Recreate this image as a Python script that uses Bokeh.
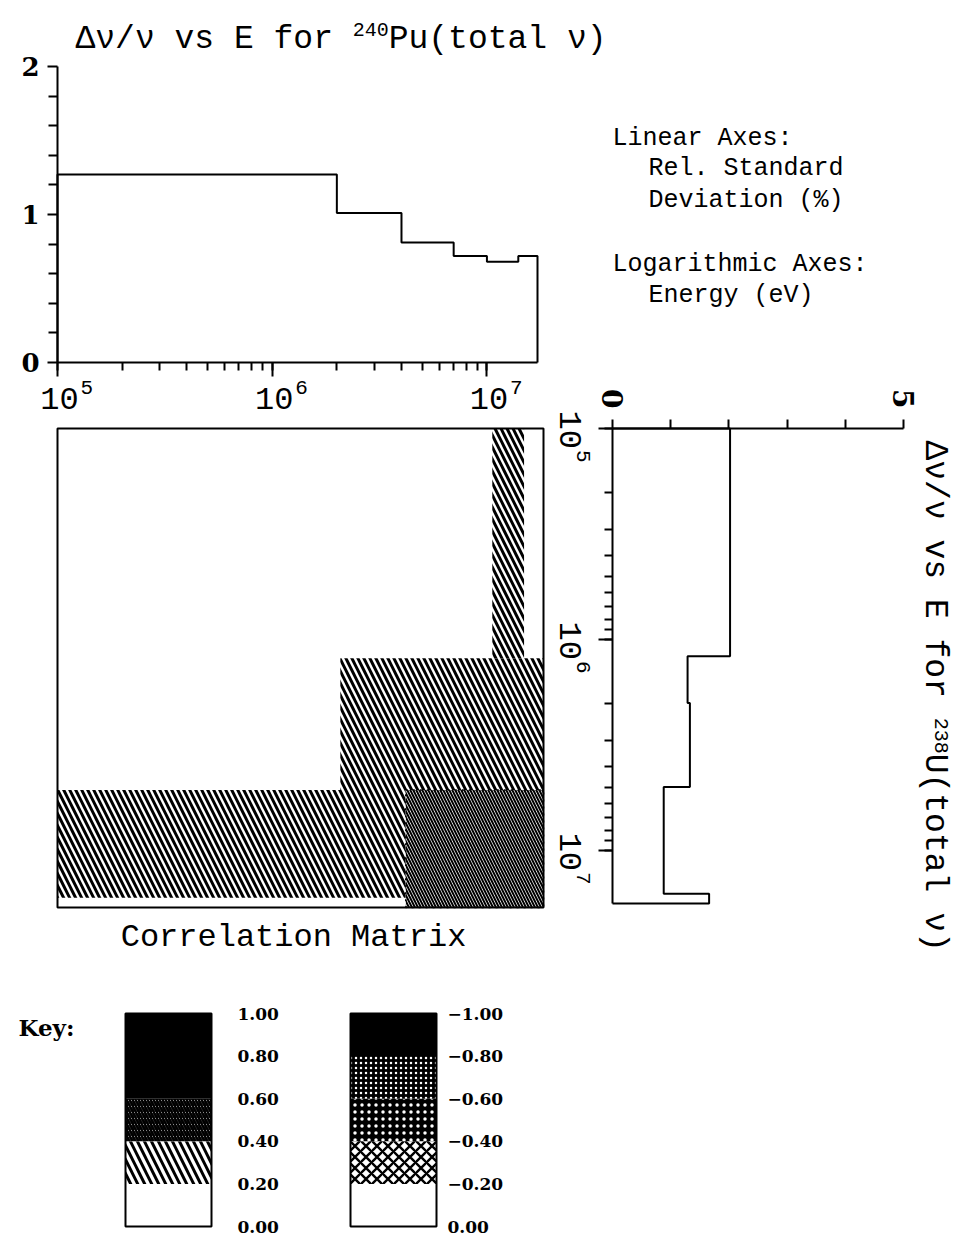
import math
import numpy as np
from bokeh.plotting import figure
from bokeh.models import Range1d, FixedTicker, Label, Spacer, CustomJSTickFormatter
from bokeh.layouts import row, column
from bokeh.core.properties import value
from bokeh.embed import file_html
from bokeh.resources import INLINE

# ---------------- data ----------------
# 240Pu relative standard deviation (%) per energy group
pu_edges = [1.0e5, 2.0e6, 4.0e6, 7.0e6, 1.0e7, 1.4e7, 1.72e7]
pu_rsd = [1.27, 1.01, 0.81, 0.72, 0.68, 0.72]
# 238U relative standard deviation (%) per energy group
u_edges = [1.0e5, 1.2e6, 2.0e6, 5.0e6, 1.6e7, 1.78e7]
u_rsd = [2.02, 1.29, 1.33, 0.88, 1.66]
# correlation matrix: rows = 238U groups (top to bottom), cols = 240Pu groups
corr_rows = [
    [0.0, 0.0, 0.0, 0.0, 0.3, 0.0],
    [0.0, 0.3, 0.3, 0.3, 0.3, 0.3],
    [0.0, 0.3, 0.3, 0.3, 0.3, 0.3],
    [0.3, 0.3, 0.5, 0.5, 0.5, 0.5],
    [0.0, 0.0, 0.5, 0.5, 0.5, 0.5],
]
top_major_ticks = [0, 1, 2]
top_minor_ticks = [0.2, 0.4, 0.6, 0.8, 1.2, 1.4, 1.6, 1.8]
right_major_ticks = [0, 5]
right_minor_ticks = [1, 2, 3, 4]
energy_label_ticks = [1.0e5, 1.0e6, 1.0e7]
key_levels = [0.0, 0.2, 0.4, 0.6, 0.8, 1.0]
key_pos_labels = ["0.00", "0.20", "0.40", "0.60", "0.80", "1.00"]
key_neg_labels = ["0.00", "\u22120.20", "\u22120.40", "\u22120.60", "\u22120.80", "\u22121.00"]

MONO = "Liberation Mono"
SERIF = "DejaVu Serif"
TITLE_A = ("\u0394\u03bd/\u03bd vs E for", "240", "Pu(total", "\u03bd)")
TITLE_R = ("\u0394\u03bd/\u03bd vs E for", "238", "U(total \u03bd)")
BASE_FIX = 0.28  # alphabetic text sits this fraction of its size below the anchor; compensate


# ---------------- helpers ----------------
def lin_range(v0, p0, v1, p1, c0, c1):
    k = (v1 - v0) / (p1 - p0)
    return Range1d(v0 + (c0 - p0) * k, v0 + (c1 - p0) * k)


def log_range(v0, p0, v1, p1, c0, c1):
    r = lin_range(math.log10(v0), p0, math.log10(v1), p1, c0, c1)
    return Range1d(10 ** r.start, 10 ** r.end)


def step_outline(edges, vals):
    e = np.asarray(edges, dtype=float)
    v = np.asarray(vals, dtype=float)
    xs = np.concatenate([[e[0]], np.repeat(e, 2)[1:-1], [e[-1]]])
    ys = np.concatenate([[0.0], np.repeat(v, 2), [0.0]])
    return xs, ys


def style_axis(ax, font, size, style="normal", tick_out=10, minor_out=8, standoff=6):
    ax.axis_line_width = 2
    ax.major_tick_line_width = 2
    ax.minor_tick_line_width = 2
    ax.major_tick_in = 0
    ax.minor_tick_in = 0
    ax.major_tick_out = tick_out
    ax.minor_tick_out = minor_out
    ax.major_label_text_font = font
    ax.major_label_text_font_size = size
    ax.major_label_text_font_style = style
    ax.major_label_text_color = "black"
    ax.major_label_standoff = standoff


def merged_rects(pred):
    runs = []
    for i, rowv in enumerate(corr_rows):
        j = 0
        while j < len(rowv):
            if pred(rowv[j]):
                k = j
                while k + 1 < len(rowv) and pred(rowv[k + 1]):
                    k += 1
                for r in runs:
                    if r[0] == j and r[1] == k and r[3] == i - 1:
                        r[3] = i
                        break
                else:
                    runs.append([j, k, i, i])
                j = k + 1
            else:
                j += 1
    return dict(left=[pu_edges[r[0]] for r in runs], right=[pu_edges[r[1] + 1] for r in runs],
                top=[u_edges[r[2]] for r in runs], bottom=[u_edges[r[3] + 1] for r in runs])


def base_fig(w, h, xr, yr, **kw):
    p = figure(width=w, height=h, x_range=xr, y_range=yr, output_backend="svg",
               toolbar_location=None, min_border=0, **kw)
    p.outline_line_color = None
    p.grid.visible = False
    return p


def add_label(p, x, y, txt, size_px, angle=0.0, align="left", font=MONO, style="normal"):
    fix = BASE_FIX * size_px
    x += -math.sin(angle) * fix
    y += math.cos(angle) * fix
    p.add_layout(Label(x=x, y=y, x_units="screen", y_units="screen", text=txt, angle=angle,
                       text_font=font, text_font_style=style, text_font_size=f"{size_px}px",
                       text_color="black", text_align=align, text_baseline="alphabetic"))


CW = 0.6 * 33  # advance of one 33px monospace character
blank = CustomJSTickFormatter(code="return ''")

# ---------------- top plot (240Pu)  canvas: page x 8..550, y 8..422 ----------------
pA = base_fig(542, 414,
              log_range(pu_edges[0], 57, pu_edges[-1], 537, 8, 550),
              lin_range(0, 362, 2, 66, 422, 8),
              x_axis_type="log")
xs, ys = step_outline(pu_edges, pu_rsd)
pA.line(xs, ys, line_color="black", line_width=2)
pA.yaxis.ticker = FixedTicker(ticks=top_major_ticks, minor_ticks=top_minor_ticks)
pA.yaxis.fixed_location = pu_edges[0]
pA.yaxis.bounds = (top_major_ticks[0], top_major_ticks[-1])
pA.xaxis.fixed_location = 0
pA.xaxis.bounds = (pu_edges[0], pu_edges[-1])
pA.xaxis.formatter = blank
style_axis(pA.yaxis[0], SERIF, "26px", "bold", tick_out=10, minor_out=9, standoff=8)
style_axis(pA.xaxis[0], MONO, "32px", tick_out=14, minor_out=8, standoff=4)
pA.text(x=energy_label_ticks, y=[0] * len(energy_label_ticks), text=["10"] * len(energy_label_ticks),
        text_font=value(MONO), text_font_size="32px", text_align="center", text_baseline="alphabetic",
        x_offset=2, y_offset=45 - BASE_FIX * 32, text_color="black")
pA.text(x=energy_label_ticks, y=[0] * len(energy_label_ticks),
        text=[str(int(round(math.log10(t)))) for t in energy_label_ticks],
        text_font=value(MONO), text_font_size="21px", text_align="left", text_baseline="alphabetic",
        x_offset=23, y_offset=31 - BASE_FIX * 21, text_color="black")

tA_x, tA_y = 75 - 8, 422 - 48
add_label(pA, tA_x, tA_y, TITLE_A[0], 33)
add_label(pA, tA_x + 14 * CW, tA_y + 13, TITLE_A[1], 20)
add_label(pA, tA_x + 14 * CW + 36, tA_y, TITLE_A[2], 33)

# ---------------- correlation matrix  canvas: page x 8..550, y 422..975 ----------------
pM = base_fig(542, 553,
              log_range(pu_edges[0], 57, pu_edges[-1], 543, 8, 550),
              log_range(u_edges[0], 428, u_edges[-1], 907, 975, 422),
              x_axis_type="log", y_axis_type="log", x_axis_location=None, y_axis_location=None)
light = merged_rects(lambda v: 0.2 <= abs(v) < 0.4)
dense = merged_rects(lambda v: 0.4 <= abs(v) < 0.6)
pM.quad(**light, fill_color="white", line_color=None, hatch_pattern="left_diagonal_line",
        hatch_color="black", hatch_scale=12, hatch_weight=3)
pM.quad(**dense, fill_color="white", line_color=None, hatch_pattern="left_diagonal_line",
        hatch_color="black", hatch_scale=6, hatch_weight=2)
pM.quad(left=[min(dense["left"])], right=[max(dense["right"])], top=[min(dense["top"])],
        bottom=[max(dense["bottom"])], fill_color=None, line_color="black", line_width=1.5, line_dash="2 5")
pM.quad(left=[pu_edges[0]], right=[pu_edges[-1]], top=[u_edges[0]], bottom=[u_edges[-1]],
        fill_color=None, line_color="black", line_width=2)
add_label(pM, 293 - 8, 975 - 946, "Correlation Matrix", 32, align="center")

# ---------------- text panel  canvas: page x 550..958, y 8..380 ----------------
pT = base_fig(408, 372, Range1d(0, 408), Range1d(0, 372), x_axis_location=None, y_axis_location=None)
for txt, px, py in [("Linear Axes:", 612, 145), ("Rel. Standard", 648, 175), ("Deviation (%)", 648, 207),
                    ("Logarithmic Axes:", 612, 271), ("Energy (eV)", 648, 302)]:
    add_label(pT, px - 550, 380 - py, txt, 25)
# end of the top title continues into this panel
add_label(pT, 8 + tA_x + 14 * CW + 36 + 9 * CW - 550, 380 - 48, TITLE_A[3], 33)

# ---------------- right plot (238U, rotated)  canvas: page x 550..958, y 380..975 ----------------
pR = base_fig(408, 595,
              lin_range(0, 612, 5, 903, 550, 958),
              log_range(u_edges[0], 428, u_edges[-1], 903, 975, 380),
              y_axis_type="log", x_axis_location="above")
ye, xv = step_outline(u_edges, u_rsd)
pR.line(xv, ye, line_color="black", line_width=2)
pR.xaxis.ticker = FixedTicker(ticks=right_major_ticks, minor_ticks=right_minor_ticks)
pR.xaxis.fixed_location = u_edges[0]
pR.xaxis.bounds = (right_major_ticks[0], right_major_ticks[-1])
pR.xaxis.formatter = CustomJSTickFormatter(code="return ''")
pR.yaxis.fixed_location = 0
pR.yaxis.bounds = (u_edges[0], u_edges[-1])
pR.yaxis.formatter = CustomJSTickFormatter(code="return ''")
style_axis(pR.xaxis[0], SERIF, "26px", "bold", tick_out=9, minor_out=9, standoff=6)
style_axis(pR.yaxis[0], MONO, "32px", tick_out=14, minor_out=8, standoff=4)

rot = -math.pi / 2
pR.text(x=right_major_ticks, y=[u_edges[0]] * len(right_major_ticks), text=[str(t) for t in right_major_ticks],
        angle=rot, text_font=value(SERIF), text_font_style="bold", text_font_size="28px",
        text_align="right", text_baseline="middle", y_offset=-20, text_color="black")
pR.text(x=[0] * len(energy_label_ticks), y=energy_label_ticks, text=["10"] * len(energy_label_ticks),
        angle=rot, text_font=value(MONO), text_font_size="32px", text_align="left",
        text_baseline="alphabetic", x_offset=-42, y_offset=-18, text_color="black")
pR.text(x=[0] * len(energy_label_ticks), y=energy_label_ticks,
        text=[str(int(round(math.log10(t)))) for t in energy_label_ticks],
        angle=rot, text_font=value(MONO), text_font_size="21px", text_align="left",
        text_baseline="alphabetic", x_offset=-29, y_offset=-18 + 2 * 0.6 * 32 + 1, text_color="black")

tR_x, tR_y = 925 - 550, 975 - 440
add_label(pR, tR_x, tR_y, TITLE_R[0], 33, angle=rot)
add_label(pR, tR_x + 10, tR_y - 14 * CW, TITLE_R[1], 20, angle=rot)
add_label(pR, tR_x, tR_y - 14 * CW - 36, TITLE_R[2], 33, angle=rot)

# ---------------- key  canvas: page x 8..958, y 975..1235 ----------------
pK = base_fig(950, 260, Range1d(0, 950), lin_range(0, 1226, 1, 1013, 1235, 975),
              x_axis_location=None, y_axis_location=None)
pos_styles = [
    dict(fill_color="white"),
    dict(fill_color="white", hatch_pattern="left_diagonal_line", hatch_color="black", hatch_scale=14, hatch_weight=3),
    dict(fill_color="white", hatch_pattern="left_diagonal_line", hatch_color="black", hatch_scale=6, hatch_weight=2.6),
    dict(fill_color="black"),
    dict(fill_color="black"),
]
neg_styles = [
    dict(fill_color="white"),
    dict(fill_color="white", hatch_pattern="diagonal_cross", hatch_color="black", hatch_scale=11, hatch_weight=2.4),
    dict(fill_color="black", hatch_pattern="dot", hatch_color="white", hatch_scale=7, hatch_weight=2),
    dict(fill_color="black", hatch_pattern="dot", hatch_color="white", hatch_scale=5, hatch_weight=1),
    dict(fill_color="black"),
]
bars = [(125 - 8, 211 - 8, pos_styles, key_pos_labels, 237 - 8), (350 - 8, 436 - 8, neg_styles, key_neg_labels, 447 - 8)]
for x0, x1, styles, labels, lx in bars:
    for k in range(len(key_levels) - 1):
        pK.quad(left=[x0], right=[x1], bottom=[key_levels[k]], top=[key_levels[k + 1]],
                line_color=None, **styles[k])
    pK.quad(left=[x0], right=[x1], bottom=[key_levels[0]], top=[key_levels[-1]],
            fill_color=None, line_color="black", line_width=2)
    pK.text(x=[lx] * len(key_levels), y=key_levels, text=labels, text_font=value(SERIF),
            text_font_style="bold", text_font_size="17px", text_baseline="middle", text_align="left",
            text_color="black")
add_label(pK, 18 - 8, 1235 - 1033, "Key:", 23, font=SERIF, style="bold")

body = column(row(column(pA, pM), column(pT, pR)), pK)
layout = column(Spacer(width=958, height=8), row(Spacer(width=8, height=8), body))
open("out.html", "w").write(file_html(layout, INLINE))
